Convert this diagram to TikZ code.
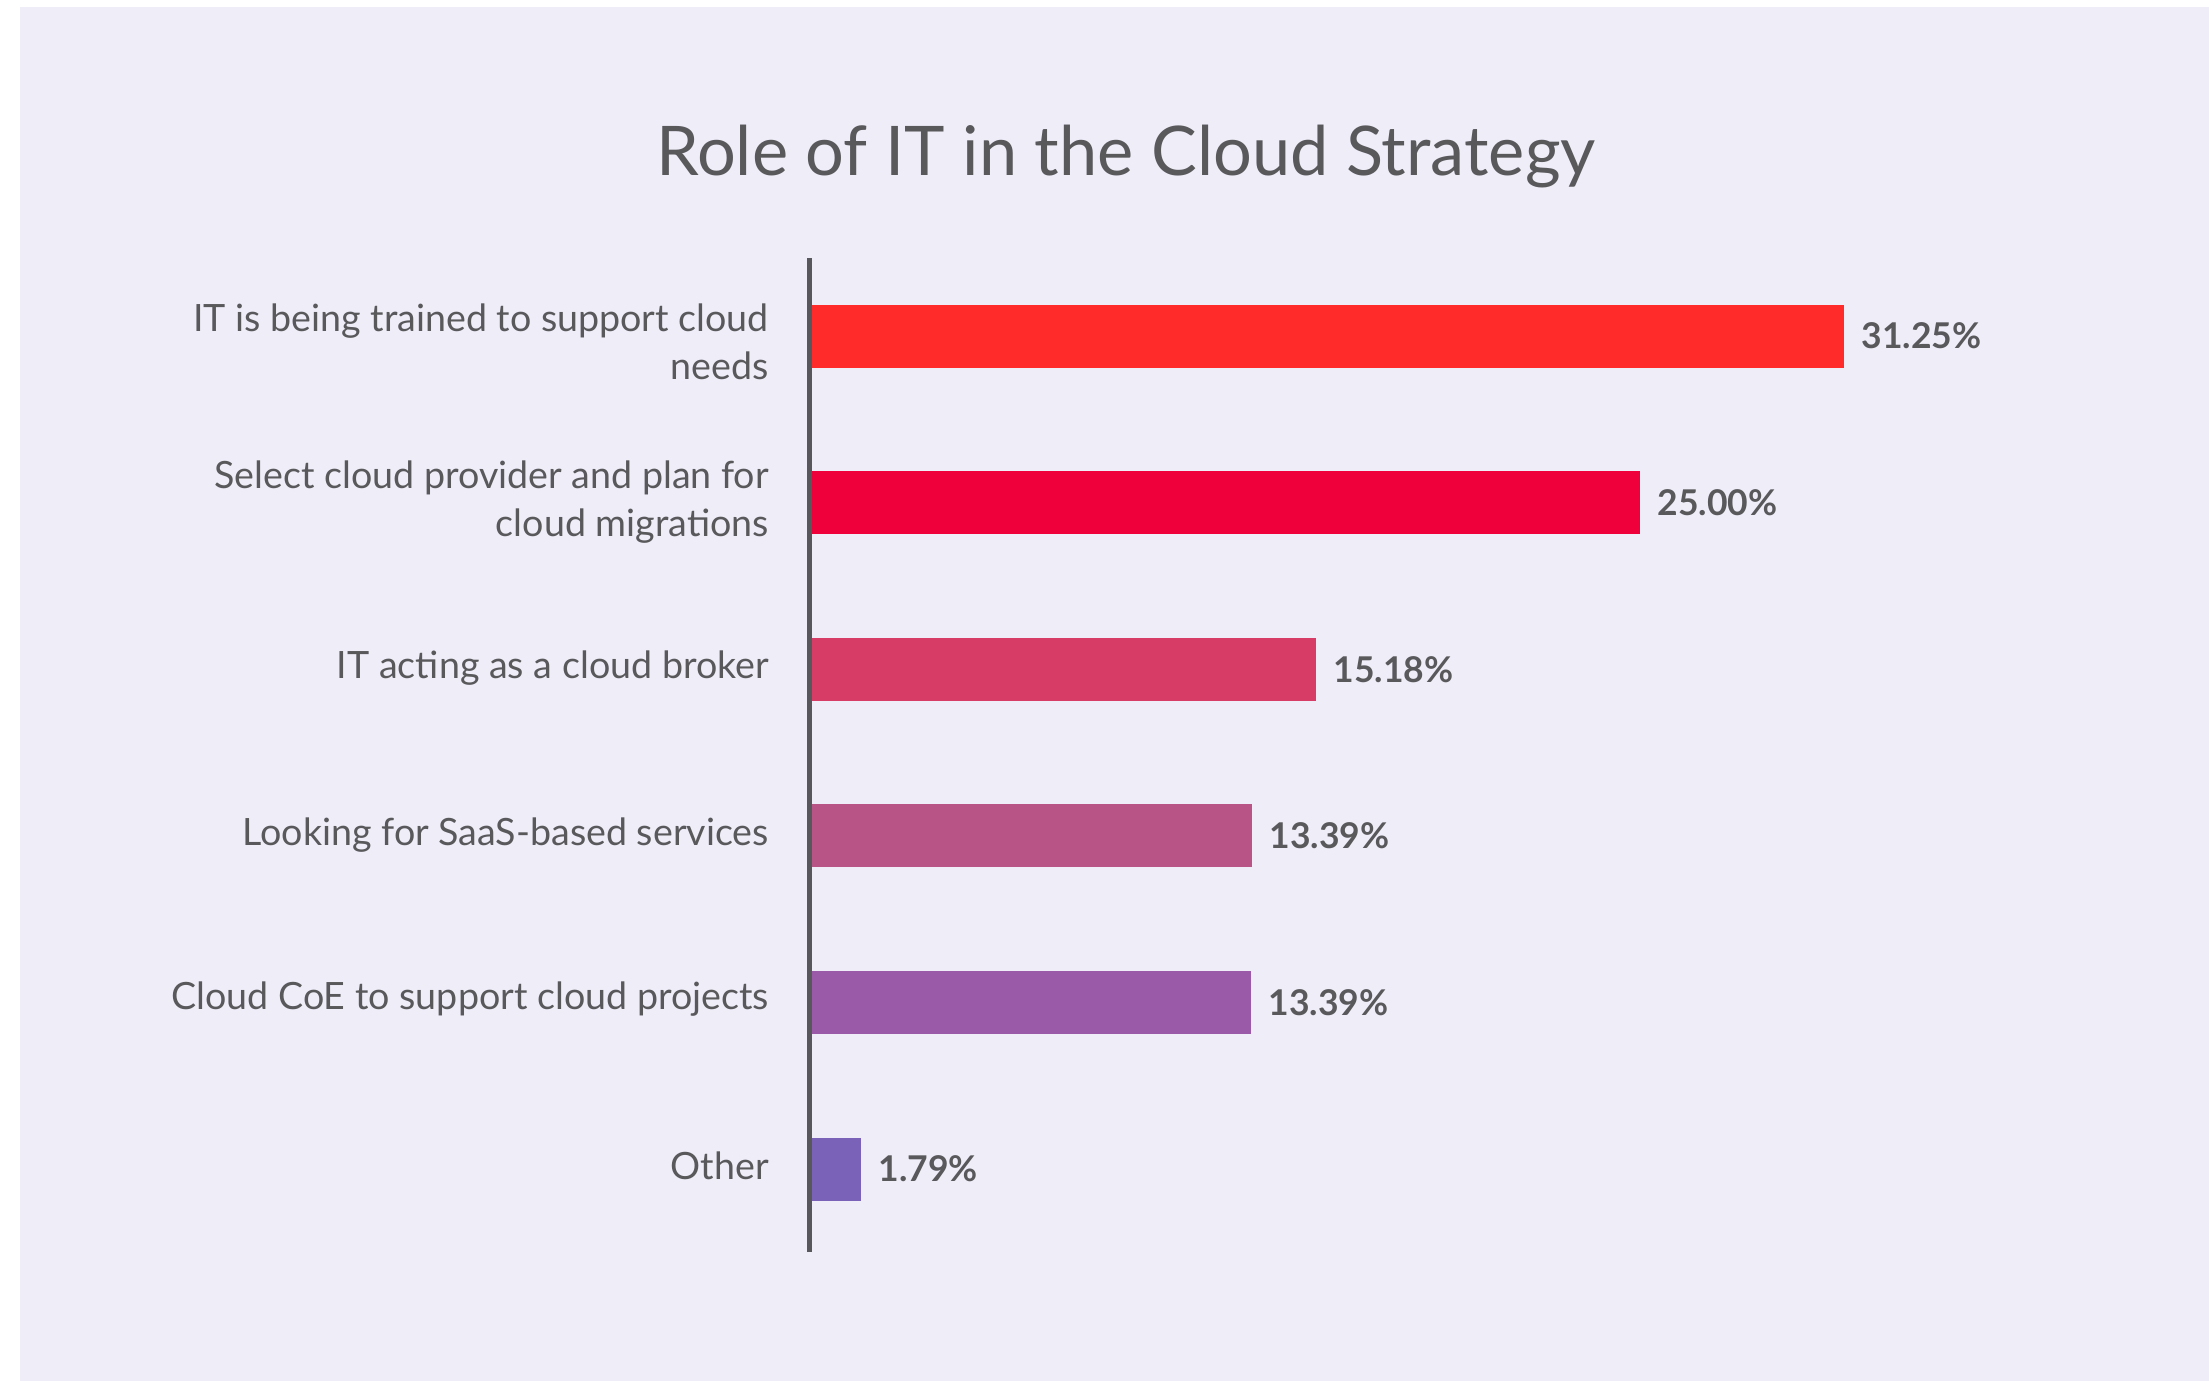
\documentclass[tikz,border=0pt]{standalone}
\usepackage{fontspec}
\setmainfont{Lato}
\definecolor{bgc}{HTML}{EFEDF8}
\definecolor{txt}{HTML}{59595C}
\definecolor{axc}{HTML}{58585C}
\definecolor{c1}{HTML}{FF2A2A}
\definecolor{c2}{HTML}{F0003A}
\definecolor{c3}{HTML}{D73C66}
\definecolor{c4}{HTML}{B85486}
\definecolor{c5}{HTML}{9B5AA8}
\definecolor{c6}{HTML}{7A62B9}
\begin{document}
\begin{tikzpicture}[x=1pt,y=-1pt,
  bar/.style={draw=none,inner sep=0pt,minimum height=63pt,anchor=west},
  cat/.style={anchor=east,align=right,inner sep=0pt,text=txt,font=\fontsize{37.6}{48}\selectfont},
  val/.style={anchor=west,inner sep=0pt,text=txt,font=\fontsize{35.5}{40}\selectfont\bfseries,xshift=17pt},
  ttl/.style={inner sep=0pt,text=txt,font=\fontsize{68.5}{80}\selectfont}]
\useasboundingbox (0,0) rectangle (2209,1381);
\fill[white] (0,0) rectangle (2209,1381);
\fill[bgc] (20,7) rectangle (2209,1381);
\node[ttl] (title) at (1126,157) {Role of IT in the Cloud Strategy};
\coordinate (axtop) at (809,258);
\coordinate (axbot) at (809,1252);
% bars
\node[bar,fill=c1,minimum width=1033pt] (b1) at (811,336) {};
\node[bar,fill=c2,minimum width=829pt] (b2) at (811,502.6) {};
\node[bar,fill=c3,minimum width=505pt] (b3) at (811,669.2) {};
\node[bar,fill=c4,minimum width=441pt] (b4) at (811,835.8) {};
\node[bar,fill=c5,minimum width=440pt] (b5) at (811,1002.4) {};
\node[bar,fill=c6,minimum width=50pt] (b6) at (811,1169) {};
\draw[axc,line width=5pt] (axtop) -- (axbot);
% values
\node[val] (v1) at (b1.east) {31.25\%};
\node[val] (v2) at (b2.east) {25.00\%};
\node[val] (v3) at (b3.east) {15.18\%};
\node[val] (v4) at (b4.east) {13.39\%};
\node[val] (v5) at (b5.east) {13.39\%};
\node[val] (v6) at (b6.east) {1.79\%};
% categories
\node[cat] (l1) at (769,342) {IT is being trained to support cloud\\needs};
\node[cat] (l2) at (769,502) {Select cloud provider and plan for\\cloud migrations};
\node[cat] (l3) at (769,668) {IT acting as a cloud broker};
\node[cat] (l4) at (769,835) {Looking for SaaS-based services};
\node[cat] (l5) at (769,999) {Cloud CoE to support cloud projects};
\node[cat] (l6) at (769,1166) {Other};
\end{tikzpicture}
\end{document}
